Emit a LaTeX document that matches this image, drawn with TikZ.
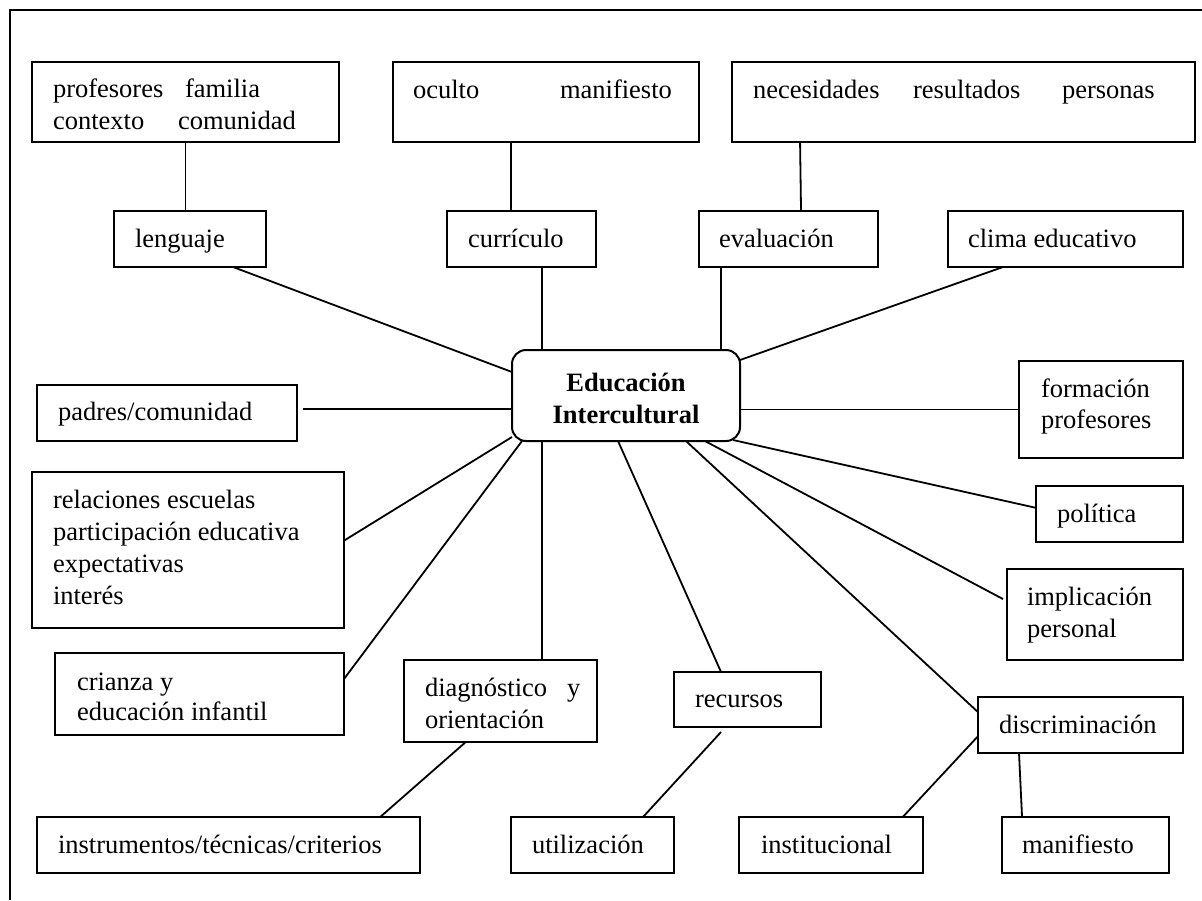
\documentclass[tikz,border=0pt]{standalone}
\usepackage{fontspec}
\setmainfont{Liberation Serif}
\usetikzlibrary{calc}
\tikzset{
  box/.style={draw=black, line width=2pt, inner sep=0pt, outer sep=0pt, rectangle},
  hub/.style={draw=black, line width=2pt, inner sep=0pt, outer sep=0pt, rectangle, rounded corners=14pt},
  txt/.style={anchor=base west, inner sep=0pt, outer sep=0pt, font=\fontsize{26.5}{32}\selectfont},
  btxt/.style={anchor=base, inner sep=0pt, outer sep=0pt, font=\fontsize{26.5}{32}\selectfont\bfseries},
  conn/.style={line width=1.8pt, black},
  frame/.style={line width=2pt, black}
}
\begin{document}
\begin{tikzpicture}[x=1pt,y=-1pt]
\useasboundingbox (0,0) rectangle (1202,900);
\fill[white] (0,0) rectangle (1202,900);
\draw[frame] (10,900) -- (10,10) -- (1202,10);

% boxes
\node[box, minimum width=307pt, minimum height=80pt] (prof) at (185.5,102) {};
\node[box, minimum width=152pt, minimum height=56pt] (leng) at (190,239) {};
\node[box, minimum width=306pt, minimum height=80pt] (ocul) at (546,102) {};
\node[box, minimum width=149pt, minimum height=56pt] (curr) at (521.5,239) {};
\node[box, minimum width=463pt, minimum height=80pt] (nece) at (963.5,102) {};
\node[box, minimum width=179pt, minimum height=56pt] (eval) at (788.5,239) {};
\node[box, minimum width=235pt, minimum height=56pt] (clim) at (1065.5,239) {};
\node[hub, minimum width=228pt, minimum height=91pt] (ctr) at (626,395.5) {};
\node[box, minimum width=260pt, minimum height=56pt] (padr) at (167,413) {};
\node[box, minimum width=164pt, minimum height=97pt] (form) at (1101,409.5) {};
\node[box, minimum width=312pt, minimum height=156pt] (rel) at (188,550) {};
\node[box, minimum width=147pt, minimum height=56pt] (pol) at (1109.5,514) {};
\node[box, minimum width=176pt, minimum height=91pt] (impl) at (1095,614.5) {};
\node[box, minimum width=289pt, minimum height=82pt] (crian) at (199.5,694) {};
\node[box, minimum width=193pt, minimum height=82pt] (diag) at (500.5,701) {};
\node[box, minimum width=147pt, minimum height=55pt] (recu) at (747.5,699.5) {};
\node[box, minimum width=205pt, minimum height=56pt] (disc) at (1080.5,725) {};
\node[box, minimum width=383pt, minimum height=56pt] (instr) at (228.5,845) {};
\node[box, minimum width=163pt, minimum height=56pt] (util) at (592.5,845) {};
\node[box, minimum width=184pt, minimum height=56pt] (inst) at (831,845) {};
\node[box, minimum width=167pt, minimum height=56pt] (mani) at (1085.5,845) {};

% texts
\node[txt] (t1) at (53,97) {profesores};
\node[txt] (t2) at (185,97) {familia};
\node[txt] (t3) at (53,129) {contexto};
\node[txt] (t4) at (178,129) {comunidad};
\node[txt] (t5) at (135,247) {lenguaje};
\node[txt] (t6) at (413,98) {oculto};
\node[txt] (t7) at (560,98) {manifiesto};
\node[txt] (t8) at (468,247) {currículo};
\node[txt] (t9) at (753,98) {necesidades};
\node[txt] (t10) at (913,98) {resultados};
\node[txt] (t11) at (1062,98) {personas};
\node[txt] (t12) at (719,247) {evaluación};
\node[txt] (t13) at (968,247) {clima educativo};
\node[btxt] (t14) at (626,391) {Educación};
\node[btxt] (t15) at (626,423) {Intercultural};
\node[txt] (t16) at (58,420) {padres/comunidad};
\node[txt] (t17) at (1041,397) {formación};
\node[txt] (t18) at (1041,428) {profesores};
\node[txt] (t19) at (53,508) {relaciones escuelas};
\node[txt] (t20) at (53,540) {participación educativa};
\node[txt] (t21) at (53,572) {expectativas};
\node[txt] (t22) at (53,604) {interés};
\node[txt] (t23) at (1057,522) {política};
\node[txt] (t24) at (1027,605) {implicación};
\node[txt] (t25) at (1027,637) {personal};
\node[txt] (t26) at (77,690) {crianza y};
\node[txt] (t27) at (77,720) {educación infantil};
\node[txt] (t28) at (425,696) {diagnóstico};
\node[txt] (t29) at (567,696) {y};
\node[txt] (t30) at (425,728) {orientación};
\node[txt] (t31) at (695,707) {recursos};
\node[txt] (t32) at (999,733) {discriminación};
\node[txt] (t33) at (58,853) {instrumentos/técnicas/criterios};
\node[txt] (t34) at (532,853) {utilización};
\node[txt] (t35) at (761,853) {institucional};
\node[txt] (t36) at (1022,853) {manifiesto};

% connectors (top)
\draw[conn] (prof.south) -- (prof.south |- leng.north);
\draw[conn] ($(ocul.south west)!0.386!(ocul.south east)$) coordinate (oc) -- (oc |- curr.north);
\draw[conn] ($(nece.south west)!0.147!(nece.south east)$) -- ($(eval.north west)!0.57!(eval.north east)$);
\draw[conn] ($(leng.south west)!0.783!(leng.south east)$) -- ($(ctr.north west)!0.242!(ctr.south west)$);
\draw[conn] ($(curr.south west)!0.638!(curr.south east)$) coordinate (cu) -- (cu |- ctr.north);
\draw[conn] ($(eval.south west)!0.123!(eval.south east)$) coordinate (ev) -- (ev |- ctr.north);
\draw[conn] ($(clim.south west)!0.234!(clim.south east)$) -- ($(ctr.north east)!0.11!(ctr.south east)$);
% middle
\draw[conn] ([shift={(6,-4)}]padr.east) coordinate (pa) -- (pa -| ctr.west);
\draw[conn] (form.west -| ctr.east) -- (form.west);
\draw[conn] ([yshift=4pt]ctr.south west) -- ($(rel.north east)!0.44!(rel.south east)$);
\draw[conn] ([xshift=10pt]ctr.south west) -- ($(crian.north east)!0.317!(crian.south east)$);
\draw[conn] ($(diag.north west)!0.715!(diag.north east)$) coordinate (dg) -- (dg |- ctr.south);
\draw[conn] ($(ctr.south west)!0.465!(ctr.south east)$) -- ($(recu.north west)!0.32!(recu.north east)$);
\draw[conn] ($(ctr.south west)!0.763!(ctr.south east)$) -- ($(disc.north west)!0.27!(disc.south west)$);
\draw[conn] ($(ctr.south west)!0.846!(ctr.south east)$) -- ([xshift=-4pt]$(impl.north west)!0.33!(impl.south west)$);
\draw[conn] ([shift={(-7,-1)}]ctr.south east) -- ($(pol.north west)!0.39!(pol.south west)$);
% bottom
\draw[conn] ($(diag.south west)!0.32!(diag.south east)$) -- ($(instr.north west)!0.896!(instr.north east)$);
\draw[conn] ([yshift=-5pt]$(recu.south west)!0.32!(recu.south east)$) -- ($(util.north west)!0.81!(util.north east)$);
\draw[conn] ($(disc.north west)!0.70!(disc.south west)$) -- ($(inst.north west)!0.89!(inst.north east)$);
\draw[conn] ($(disc.south west)!0.2!(disc.south east)$) -- ($(mani.north west)!0.12!(mani.north east)$);
\end{tikzpicture}
\end{document}
